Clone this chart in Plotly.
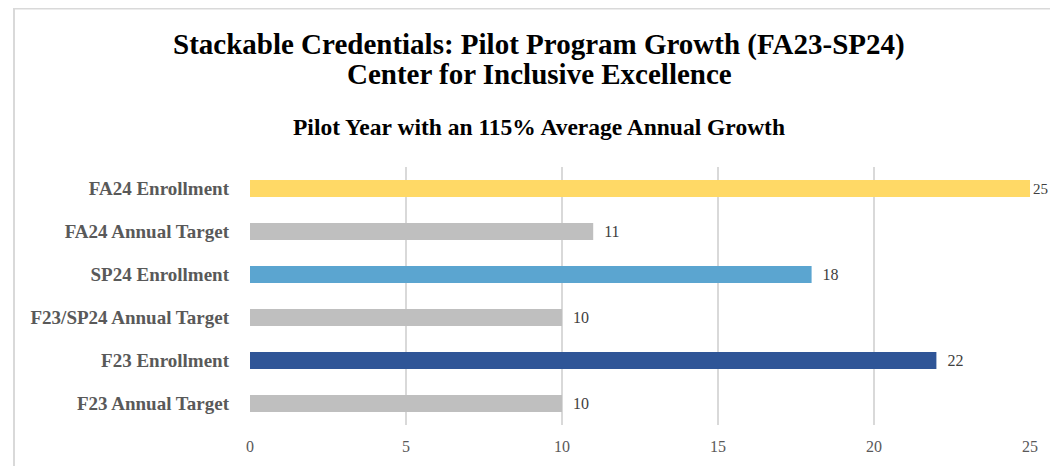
import plotly.graph_objects as go

# -----------------------------
# Data (bottom to top)
# -----------------------------
categories = [
    "F23 Annual Target",
    "F23 Enrollment",
    "F23/SP24 Annual Target",
    "SP24 Enrollment",
    "FA24 Annual Target",
    "FA24 Enrollment",
]
values = [10, 22, 10, 18, 11, 25]
bar_colors = ["#BFBFBF", "#2F5597", "#BFBFBF", "#5BA5D0", "#BFBFBF", "#FFD966"]
x_ticks = [0, 5, 10, 15, 20, 25]

title_lines = [
    "Stackable Credentials: Pilot Program Growth (FA23-SP24)",
    "Center for Inclusive Excellence",
]
subtitle = "Pilot Year with an 115% Average Annual Growth"

# page has an 8px body margin, so figure pixels = page pixels - 8
W, H = 1058, 466
L, R, T, B = 242, 36, 159, 49
pw, ph = W - L - R, H - T - B

def px_x(x):
    return (x - L) / pw

def px_y(y):
    return 1 + (T - y) / ph

# last label sits at the right edge, so give it no padding
labels = ["\u00a0\u00a0" + str(v) if v < 25 else str(v) for v in values]
label_sizes = [16 if v < 25 else 15 for v in values]

fig = go.Figure(
    go.Bar(
        x=values,
        y=categories,
        orientation="h",
        marker=dict(color=bar_colors, line=dict(width=0)),
        width=0.4,
        text=labels,
        texttemplate="%{text}",
        textposition="outside",
        constraintext="none",
        textfont=dict(family="Liberation Serif", size=label_sizes, color="#404040"),
        cliponaxis=False,
        hoverinfo="x+y",
    )
)

title_font = dict(family="Liberation Serif", size=29, color="#000000")
fig.update_layout(
    width=W,
    height=H,
    margin=dict(l=L, r=R, t=T, b=B),
    paper_bgcolor="white",
    plot_bgcolor="white",
    showlegend=False,
    annotations=[
        dict(text="<b>" + title_lines[0] + "</b>", x=px_x(531), y=px_y(36),
             xref="paper", yref="paper", xanchor="center", yanchor="middle",
             showarrow=False, font=title_font),
        dict(text="<b>" + title_lines[1] + "</b>", x=px_x(531), y=px_y(66),
             xref="paper", yref="paper", xanchor="center", yanchor="middle",
             showarrow=False, font=title_font),
        dict(text="<b>" + subtitle + "</b>", x=px_x(530.5), y=px_y(119),
             xref="paper", yref="paper", xanchor="center", yanchor="middle",
             showarrow=False,
             font=dict(family="Liberation Serif", size=23.5, color="#000000")),
    ],
    shapes=[
        dict(type="line", xref="paper", yref="paper",
             x0=px_x(6), x1=px_x(W + 5), y0=px_y(0.5), y1=px_y(0.5),
             line=dict(color="#D9D9D9", width=2)),
        dict(type="line", xref="paper", yref="paper",
             x0=px_x(6), x1=px_x(6), y0=px_y(0), y1=px_y(H + 5),
             line=dict(color="#D9D9D9", width=2)),
    ],
)

fig.update_xaxes(
    range=[0, 25],
    tickvals=x_ticks,
    showgrid=True,
    gridcolor="#D9D9D9",
    gridwidth=1.5,
    zeroline=False,
    showline=False,
    ticks="",
    ticklabelstandoff=10,
    tickfont=dict(family="Liberation Serif", size=16, color="#595959"),
)
fig.update_yaxes(
    categoryorder="array",
    categoryarray=categories,
    showgrid=False,
    showline=False,
    ticks="",
    ticklabelstandoff=20,
    tickfont=dict(family="Liberation Serif", size=19, color="#595959", weight="bold"),
)

fig.write_html("out.html")
